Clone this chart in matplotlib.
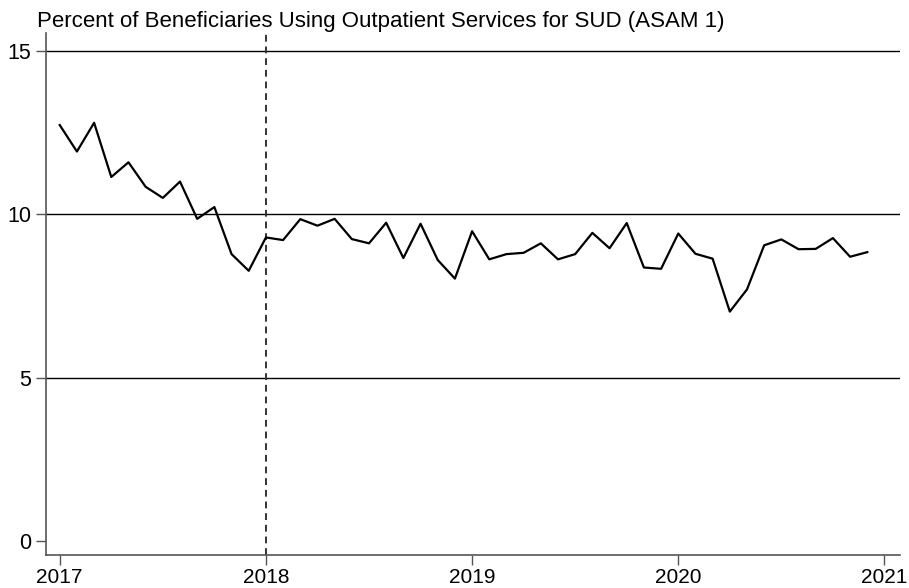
import matplotlib
matplotlib.use("Agg")
import matplotlib.pyplot as plt
import numpy as np

plt.rcParams['font.family'] = ['Liberation Sans', 'DejaVu Sans']

# Monthly values, 2017m1 .. 2020m12
values = [12.73, 11.92, 12.80, 11.14, 11.59, 10.84, 10.50, 11.00, 9.86, 10.22, 8.78, 8.27,
          9.29, 9.21, 9.85, 9.65, 9.86, 9.24, 9.11, 9.74, 8.66, 9.71, 8.60, 8.03,
          9.48, 8.62, 8.78, 8.82, 9.11, 8.62, 8.78, 9.43, 8.96, 9.73, 8.37, 8.33,
          9.41, 8.79, 8.64, 7.02, 7.70, 9.05, 9.23, 8.93, 8.94, 9.27, 8.70, 8.84]
year_ticks = [2017, 2018, 2019, 2020, 2021]
y_ticks = [0, 5, 10, 15]
title = "Percent of Beneficiaries Using Outpatient Services for SUD (ASAM 1)"
policy_month = 12  # 2018m1

months = np.arange(len(values))
tick_pos = [(y - 2017) * 12 for y in year_ticks]

fig = plt.figure(figsize=(9.09, 5.88), dpi=100)
ax = fig.add_axes([0.0506, 0.0561, 0.9394, 0.8879])

for yv in y_ticks[1:]:
    ax.axhline(yv, color='black', lw=1.0, zorder=1)
ax.axvline(policy_month, color='#333333', lw=1.4, ls=(0, (3.5, 2.5)), zorder=2)
ax.plot(months, values, color='black', lw=1.6, zorder=3)

ax.set_xlim(-0.8, 48.9)
ax.set_ylim(-0.43, 15.55)
ax.set_xticks(tick_pos)
ax.set_xticklabels([str(y) for y in year_ticks])
ax.set_yticks(y_ticks)
ax.set_yticklabels([str(v) for v in y_ticks])

for s in ['top', 'right']:
    ax.spines[s].set_visible(False)
for s in ['left', 'bottom']:
    ax.spines[s].set_color('#555555')
    ax.spines[s].set_linewidth(1.2)
ax.tick_params(axis='y', labelsize=15.5, length=7.5, width=1, color='#555555', pad=3)
ax.tick_params(axis='x', labelsize=15, length=7.5, width=1, color='#555555', pad=1.5)

fig.text(37 / 909, 1 - 21 / 588, title, fontsize=16, ha='left', va='center')

fig.savefig('out.png', dpi=100)
